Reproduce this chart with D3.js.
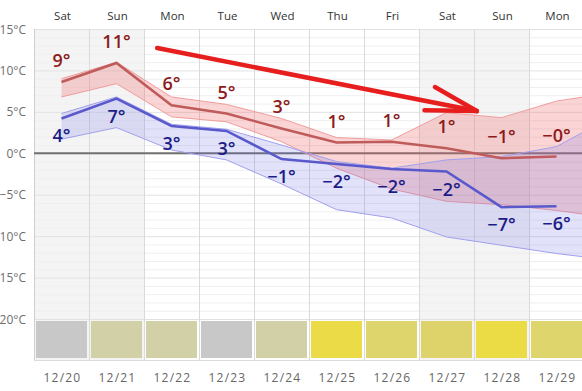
<!DOCTYPE html>
<html>
<head>
<meta charset="utf-8">
<script src="https://cdn.jsdelivr.net/npm/d3@7"></script>
<style>
  body { margin: 0; background: #fff; }
  svg { display: block; font-family: "Open Sans", sans-serif; }
</style>
</head>
<body>
<svg id="chart" width="582" height="391"></svg>
<script>
// 10-day forecast, highs in red, lows in blue, shaded ranges behind each line.
// the band arrays carry one extra point (12/30) so the ranges run off the right edge.
var days = ["Sat", "Sun", "Mon", "Tue", "Wed", "Thu", "Fri", "Sat", "Sun", "Mon"];
var dates = ["12/20", "12/21", "12/22", "12/23", "12/24", "12/25", "12/26", "12/27", "12/28", "12/29"];
var weekend = [1, 1, 0, 0, 0, 0, 0, 1, 1, 0];

var hiTemp = [8.6, 10.9, 5.8, 4.8, 3.0, 1.3, 1.4, 0.6, -0.6, -0.4];
var hiLabels = ["9°", "11°", "6°", "5°", "3°", "1°", "1°", "1°", "−1°", "−0°"];
var hiBandTop = [9.0, 11.0, 6.8, 5.9, 4.2, 1.9, 1.6, 4.9, 4.3, 6.3, 7.3];
var hiBandBot = [6.8, 8.4, 4.4, 3.8, 1.4, -1.8, -4.3, -5.8, -6.2, -6.9, -7.8];

var loTemp = [4.2, 6.6, 3.3, 2.7, -0.7, -1.3, -1.9, -2.2, -6.5, -6.4];
var loLabels = ["4°", "7°", "3°", "3°", "−1°", "−2°", "−2°", "−2°", "−7°", "−6°"];
var loBandTop = [4.8, 6.8, 3.5, 2.9, 1.0, -1.0, -1.8, -0.8, -0.4, 0.8, 4.4];
var loBandBot = [1.7, 3.1, 0.4, -0.8, -3.7, -6.8, -7.8, -10.1, -11.1, -12.1, -12.9];

var skyColours = ["#c8c8c8", "#d2d0a7", "#d2d0a7", "#c8c8c8", "#d2d0a7",
                  "#ebdb47", "#ded66c", "#ded36b", "#ebdb45", "#ded66c"];

// arrow annotation, in (day index, °C)
var arrowShaft = [[1.74, 12.7], [7.55, 5.1]];
var arrowBarbs = [[[6.79, 8.0], [7.55, 5.1]], [[6.6, 5.2], [7.55, 5.1]]];

var svg = d3.select("#chart");
// note: can't call this "top", window.top is read-only
var plotLeft = 34, plotTop = 29, plotRight = 584, plotBottom = 360;

var x = d3.scaleLinear().domain([-0.5, 9.5]).range([plotLeft, plotRight]);
var y = d3.scaleLinear().domain([-20, 15]).range([319, 29]);
var colW = x(1) - x(0);

svg.append("clipPath").attr("id", "plot")
  .append("rect").attr("x", plotLeft).attr("y", plotTop)
  .attr("width", plotRight - plotLeft).attr("height", plotBottom - plotTop);

var plot = svg.append("g").attr("clip-path", "url(#plot)");

// weekend columns
plot.selectAll("rect.weekend").data(weekend).enter()
  .append("rect").attr("class", "weekend")
  .attr("x", function(d, i){ return x(i - 0.5); })
  .attr("y", plotTop).attr("width", colW).attr("height", plotBottom - plotTop)
  .style("fill", function(d){ return d ? "#f4f4f4" : "none"; });

// gridlines, every degree, darker every five
plot.selectAll("line.grid").data(d3.range(-20, 16)).enter()
  .append("line").attr("class", "grid")
  .attr("x1", plotLeft).attr("x2", plotRight)
  .attr("y1", function(d){ return y(d) + 0.5; })
  .attr("y2", function(d){ return y(d) + 0.5; })
  .style("stroke", function(d){ return d % 5 === 0 ? "#e2e2e2" : "#efefef"; })
  .style("stroke-width", 1);

// column separators
plot.selectAll("line.col").data(d3.range(0, 11)).enter()
  .append("line").attr("class", "col")
  .attr("x1", function(d){ return x(d - 0.5) + 0.5; })
  .attr("x2", function(d){ return x(d - 0.5) + 0.5; })
  .attr("y1", plotTop).attr("y2", plotBottom)
  .style("stroke", function(d){ return d === 0 ? "#cfcfcf" : "#dadada"; });

svg.append("line")
  .attr("x1", plotLeft).attr("x2", plotRight)
  .attr("y1", plotBottom + 0.5).attr("y2", plotBottom + 0.5)
  .style("stroke", "#dcdcdc");

// zero line
plot.append("line")
  .attr("x1", plotLeft).attr("x2", plotRight)
  .attr("y1", y(0)).attr("y2", y(0))
  .style("stroke", "#707070").style("stroke-width", 2);

function band(upper, lower, fill, edge){
  var area = d3.area()
    .x(function(d, i){ return x(i); })
    .y0(function(d, i){ return y(lower[i]); })
    .y1(function(d){ return y(d); });
  plot.append("path").datum(upper).attr("d", area)
    .style("fill", fill).style("stroke", "none");
  var edgeLine = d3.line().x(function(d, i){ return x(i); }).y(function(d){ return y(d); });
  [upper, lower].forEach(function(s){
    plot.append("path").datum(s).attr("d", edgeLine)
      .style("fill", "none").style("stroke", edge).style("stroke-width", 1);
  });
}

band(hiBandTop, hiBandBot, "rgba(242,105,105,0.28)", "#f09c9c");
band(loBandTop, loBandBot, "rgba(110,110,235,0.2)", "#a0a0ee");

var line = d3.line().x(function(d, i){ return x(i); }).y(function(d){ return y(d); });
plot.append("path").datum(hiTemp).attr("d", line)
  .style("fill", "none").style("stroke", "#c05b5b").style("stroke-width", 2.5);
plot.append("path").datum(loTemp).attr("d", line)
  .style("fill", "none").style("stroke", "#5959cc").style("stroke-width", 2.5);

// temperature labels
svg.selectAll("text.hi").data(hiLabels).enter()
  .append("text").attr("class", "hi")
  .attr("x", function(d, i){ return x(i); })
  .attr("y", function(d, i){ return y(hiTemp[i]) - 15; })
  .attr("text-anchor", "middle")
  .style("font-size", "18px").style("font-weight", 600).style("fill", "#8c1b1b")
  .text(function(d){ return d; });

svg.selectAll("text.lo").data(loLabels).enter()
  .append("text").attr("class", "lo")
  .attr("x", function(d, i){ return x(i); })
  .attr("y", function(d, i){ return y(loTemp[i]) + 24; })
  .attr("text-anchor", "middle")
  .style("font-size", "18px").style("font-weight", 600).style("fill", "#1c1c86")
  .text(function(d){ return d; });

// sky boxes along the bottom
svg.selectAll("rect.sky").data(skyColours).enter()
  .append("rect").attr("class", "sky")
  .attr("x", function(d, i){ return x(i - 0.5) + 2; })
  .attr("y", 321).attr("width", colW - 4).attr("height", 37)
  .style("fill", function(d){ return d; });

// arrow
var arrowLine = d3.line().x(function(d){ return x(d[0]); }).y(function(d){ return y(d[1]); });
[arrowShaft].concat(arrowBarbs).forEach(function(seg){
  svg.append("path").attr("d", arrowLine(seg))
    .style("fill", "none").style("stroke", "#e61e1e")
    .style("stroke-width", 4.5).style("stroke-linecap", "round");
});

// axis texts
svg.selectAll("text.day").data(days).enter()
  .append("text").attr("class", "day")
  .attr("x", function(d, i){ return x(i) + 1; }).attr("y", 20)
  .attr("text-anchor", "middle")
  .style("font-size", "11.5px").style("fill", "#333")
  .text(function(d){ return d; });

svg.selectAll("text.date").data(dates).enter()
  .append("text").attr("class", "date")
  .attr("x", function(d, i){ return x(i) + 1; }).attr("y", 382)
  .attr("text-anchor", "middle")
  .style("font-size", "12px").style("letter-spacing", "1.2px").style("fill", "#666")
  .text(function(d){ return d; });

svg.selectAll("text.ytick").data(d3.range(15, -21, -5)).enter()
  .append("text").attr("class", "ytick")
  .attr("x", 26).attr("y", function(d){ return y(d) + 4.5; })
  .attr("text-anchor", "end")
  .style("font-size", "12px").style("fill", "#6e6e6e")
  .text(function(d){ return (d < 0 ? "−" + (-d) : d) + "°C"; });
</script>
</body>
</html>
